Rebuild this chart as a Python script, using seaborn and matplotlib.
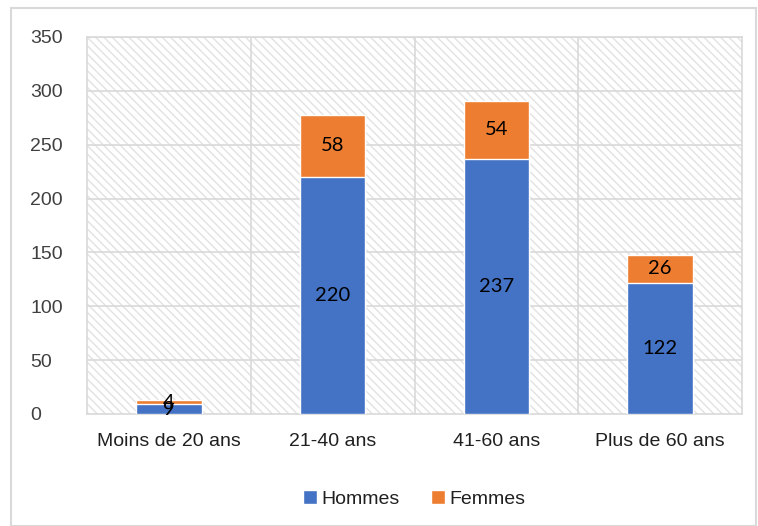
import matplotlib.pyplot as plt
import pandas as pd
import seaborn as sns
from matplotlib.patches import Rectangle

categories = ["Moins de 20 ans", "21-40 ans", "41-60 ans", "Plus de 60 ans"]
hommes = [9, 220, 237, 122]
femmes = [4, 58, 54, 26]
y_ticks = [0, 50, 100, 150, 200, 250, 300, 350]

BLUE = "#4472c4"
ORANGE = "#ed7d31"
GRID = "#d9d9d9"

df = pd.DataFrame({"age": categories, "Hommes": hommes, "Femmes": femmes})
df["total"] = df["Hommes"] + df["Femmes"]

sns.set_style("white")
plt.rcParams["font.family"] = ["Liberation Sans", "DejaVu Sans"]

fig = plt.figure(figsize=(7.58, 5.26), dpi=100)
ax = fig.add_axes([0.1148, 0.213, 0.8642, 0.7167])

# hatched background of the plot area
ax.add_patch(
    Rectangle(
        (0, 0), 1, 1, transform=ax.transAxes, facecolor="white",
        edgecolor="#e2e2e2", hatch="\\\\\\\\", linewidth=0, zorder=0,
    )
)

sns.barplot(data=df, x="age", y="total", color=ORANGE, width=0.4,
            saturation=1, ax=ax, label="Femmes", zorder=3)
sns.barplot(data=df, x="age", y="Hommes", color=BLUE, width=0.4,
            saturation=1, ax=ax, label="Hommes", zorder=4)

for i, (h, f) in enumerate(zip(hommes, femmes)):
    ax.text(i, h / 2, str(h), ha="center", va="center", fontsize=14.5,
            family="Lato", color="black", zorder=5)
    ax.text(i, h + f / 2, str(f), ha="center", va="center", fontsize=14.5,
            family="Lato", color="black", zorder=5)

ax.set_ylim(0, 350)
ax.set_xlim(-0.5, 3.5)
ax.set_yticks(y_ticks)
ax.set_yticklabels([str(v) for v in y_ticks], fontsize=14, color="#404040")
for lbl in ax.get_yticklabels():
    lbl.set_horizontalalignment("left")
ax.tick_params(axis="x", labelsize=14, pad=14, length=0, labelcolor="#202020")
ax.tick_params(axis="y", length=0, pad=41)
ax.set_xlabel("")
ax.set_ylabel("")

for v in y_ticks[1:]:
    ax.axhline(v, color=GRID, linewidth=1.2, zorder=1)
for x in [0.5, 1.5, 2.5]:
    ax.axvline(x, color=GRID, linewidth=1.2, zorder=1)
for s in ax.spines.values():
    s.set_color(GRID)
    s.set_linewidth(1.2)

handles, labels = ax.get_legend_handles_labels()
order = [labels.index("Hommes"), labels.index("Femmes")]
ax.legend([handles[k] for k in order], [labels[k] for k in order],
          loc="upper center", bbox_to_anchor=(0.5, -0.155), ncol=2,
          frameon=False, fontsize=14, handlelength=0.7, handleheight=0.7,
          handletextpad=0.25, columnspacing=1.6, labelcolor="#202020")

fig.patches.append(
    Rectangle((0.014, 0.0), 0.984, 0.985, transform=fig.transFigure,
              fill=False, edgecolor=GRID, linewidth=1.5)
)

fig.savefig("out.png", dpi=100)
